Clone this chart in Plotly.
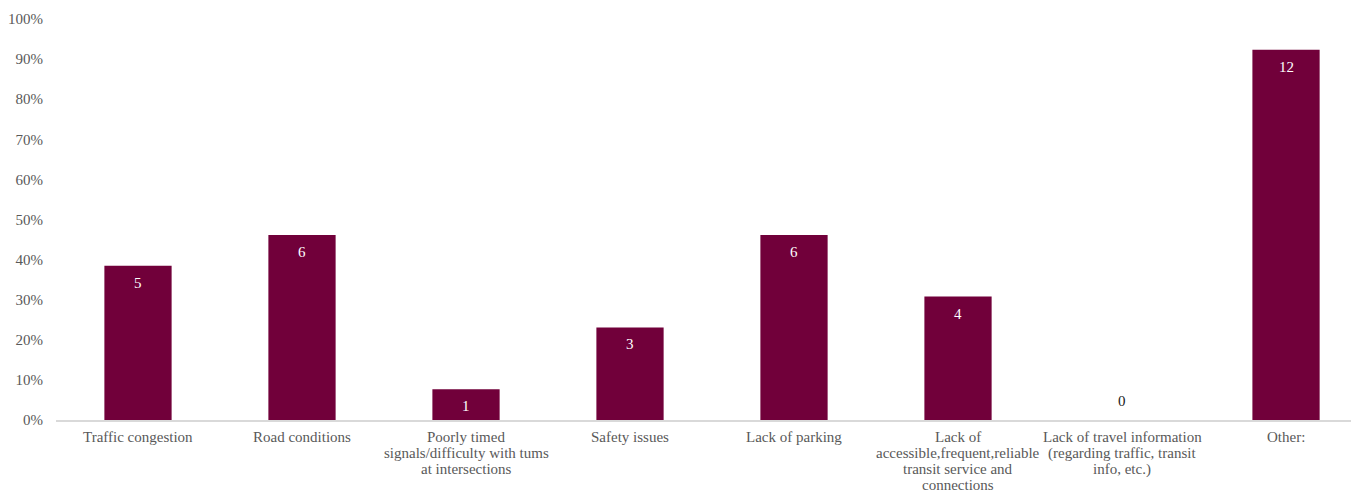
import plotly.graph_objects as go

categories = [
    "Traffic congestion",
    "Road conditions",
    "Poorly timed<br>signals/difficulty with tums<br>at intersections",
    "Safety issues",
    "Lack of parking",
    "Lack of<br>accessible,frequent,reliable<br>transit service and<br>connections",
    "Lack of travel information<br>(regarding traffic, transit<br>info, etc.)",
    "Other:",
]
shares = [0.3846, 0.4615, 0.0769, 0.2308, 0.4615, 0.3077, 0.0, 0.9231]
counts = [5, 6, 1, 3, 6, 4, 0, 12]
y_ticks = [0, 0.1, 0.2, 0.3, 0.4, 0.5, 0.6, 0.7, 0.8, 0.9, 1.0]

font_family = "Liberation Serif, Times New Roman, serif"
FS = 15

fig = go.Figure(
    go.Bar(
        x=categories,
        y=shares,
        marker=dict(color="#71003A", line=dict(width=0)),
        width=0.41,
        hoverinfo="skip",
    )
)

annotations = []
# data labels
for cat, s, c in zip(categories, shares, counts):
    inside = c > 0
    annotations.append(dict(
        x=cat, y=s, xref="x", yref="y",
        text=str(c), showarrow=False,
        yanchor="middle", yshift=-17 if inside else 19,
        font=dict(family=font_family, size=FS, color="white" if inside else "#1a1a1a"),
    ))
# category labels with tight line spacing
for cat in categories:
    for i, line in enumerate(cat.split("<br>")):
        annotations.append(dict(
            x=cat, y=0, xref="x", yref="y",
            text=line, showarrow=False,
            yanchor="middle", yshift=-(17 + 16 * i),
            font=dict(family=font_family, size=FS, color="#595959"),
        ))

fig.update_layout(
    width=1359,
    height=495,
    margin=dict(l=48, r=8, t=11, b=83),
    paper_bgcolor="white",
    plot_bgcolor="white",
    showlegend=False,
    font=dict(family=font_family, size=FS, color="#595959"),
    annotations=annotations,
)
fig.update_xaxes(
    range=[-0.5, 7.445],
    showline=True,
    linecolor="#d9d9d9",
    linewidth=1.5,
    showgrid=False,
    ticks="",
    showticklabels=False,
    automargin=False,
)
fig.update_yaxes(
    range=[0, 1.0],
    tickvals=y_ticks,
    tickformat=".0%",
    showgrid=False,
    zeroline=False,
    showline=False,
    ticks="",
    ticklabelstandoff=12,
    automargin=False,
    tickfont=dict(family=font_family, size=FS, color="#595959"),
)

fig.write_html("out.html")
